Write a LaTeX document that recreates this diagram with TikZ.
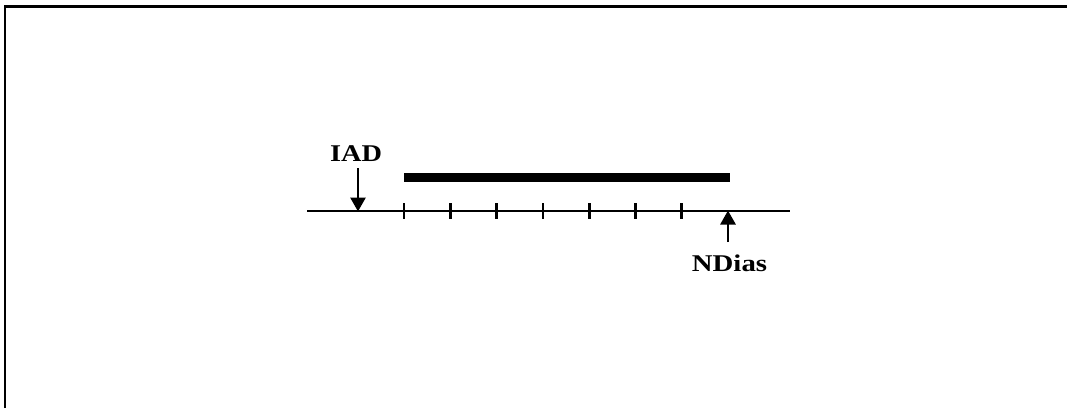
\documentclass[tikz,border=0pt]{standalone}
\usepackage{fontspec}
\setmainfont{Liberation Serif}
\usetikzlibrary{arrows.meta}
\begin{document}
\begin{tikzpicture}[x=1pt,y=-1pt,
  axisline/.style={line width=2.6pt},
  tickline/.style={line width=2.8pt},
  barline/.style={line width=9pt},
  marker/.style={line width=2.8pt,-{Triangle[width=15pt,length=14pt]}},
  lbl/.style={font=\fontsize{24}{24}\selectfont\bfseries,inner sep=0pt}]
\useasboundingbox (0,0) rectangle (1067,408);
\fill[white] (0,0) rectangle (1067,408);
% frame (only top and left edges visible)
\draw[line width=2.8pt] (5,408) -- (5,6.5) -- (1067,6.5);
% axis
\coordinate (a0) at (307,211);
\coordinate (a1) at (790,211);
\draw[axisline] (a0) -- (a1);
% ticks
\foreach \i in {0,...,6}{
  \draw[tickline] ({404+46.3*\i},203) -- ({404+46.3*\i},219);
}
% thick bar
\coordinate (b0) at (404,177.5);
\coordinate (b1) at (730,177.5);
\draw[barline] (b0) -- (b1);
% IAD
\node[lbl] (iad) at (356,154) {\scalebox{1.18}[1]{IAD}};
\coordinate (iadtail) at (358,168);
\coordinate (iadtip) at (358,211.5);
\draw[marker] (iadtail) -- (iadtip);
% NDias
\node[lbl] (ndias) at (729.5,263) {\scalebox{1.2}[1]{NDias}};
\coordinate (ndtail) at (728,242);
\coordinate (ndtip) at (728,210.5);
\draw[marker] (ndtail) -- (ndtip);
\end{tikzpicture}
\end{document}
